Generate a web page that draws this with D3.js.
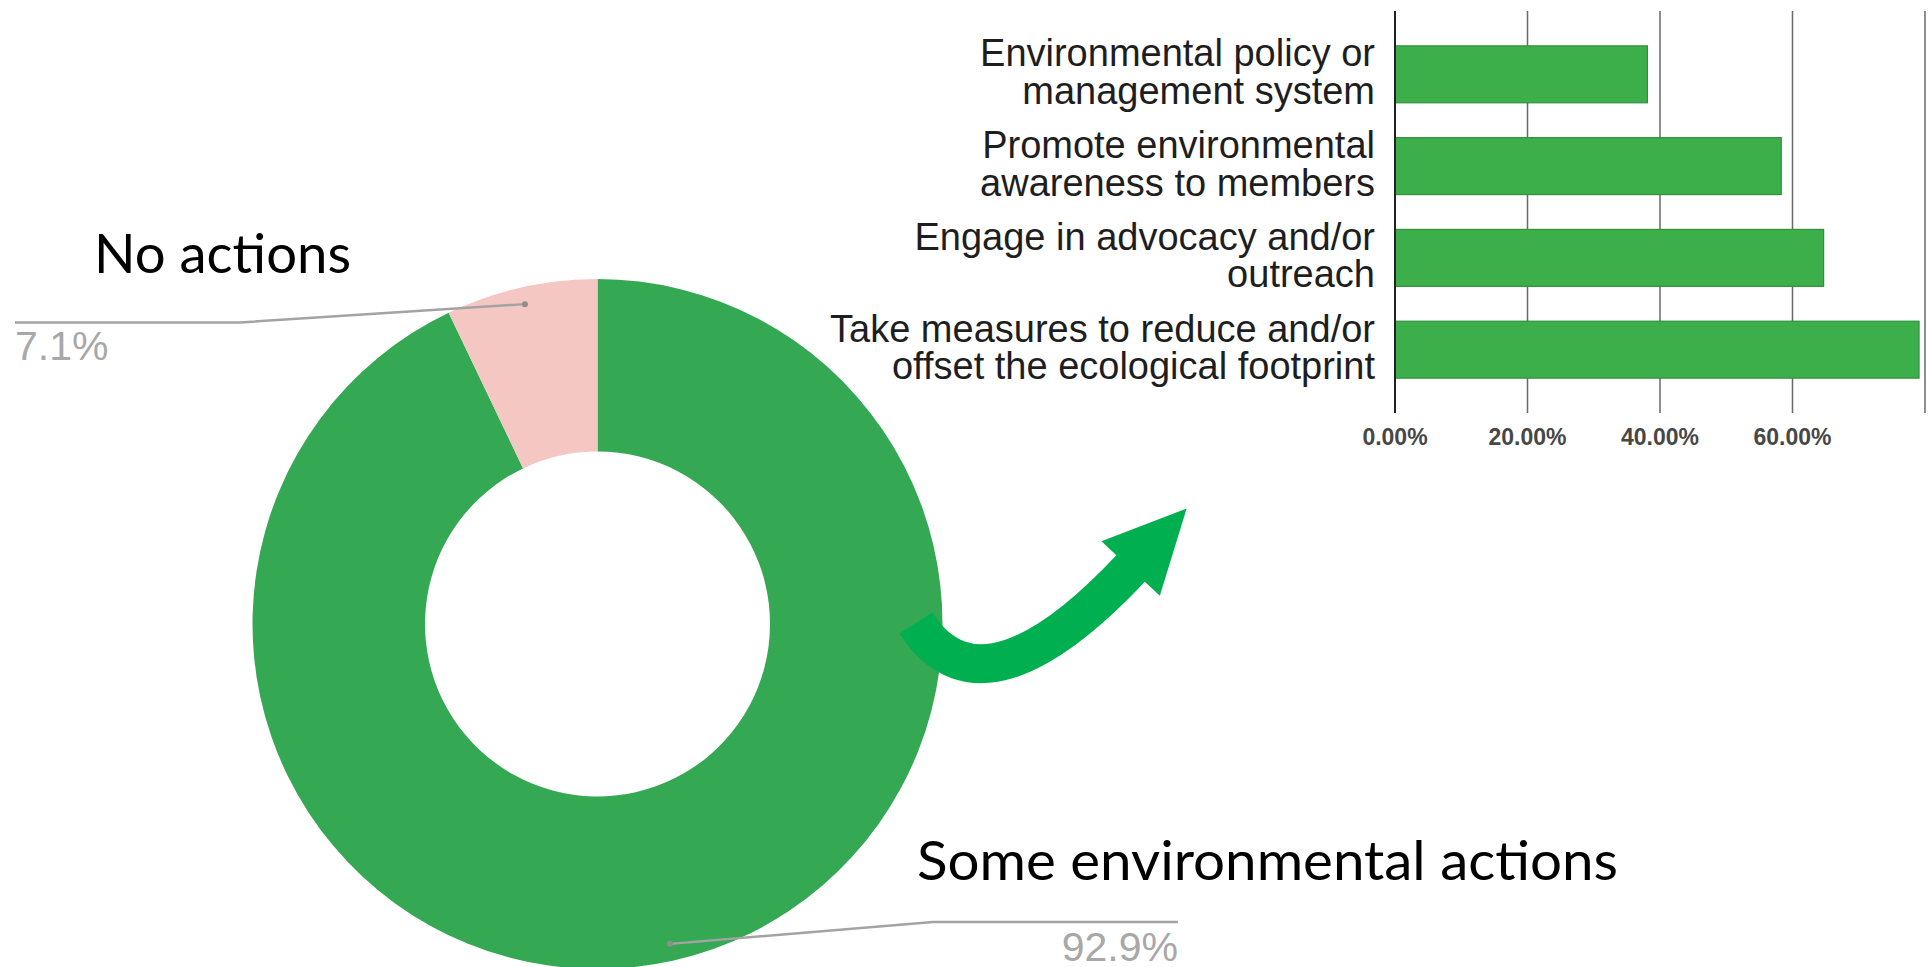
<!DOCTYPE html>
<html>
<head>
<meta charset="utf-8">
<script src="https://cdn.jsdelivr.net/npm/d3@7"></script>
<style>
  html, body { margin: 0; padding: 0; background: #fff; overflow: hidden; }
  svg { display: block; }
</style>
</head>
<body>
<div id="chart"></div>
<script>
// donut: organisations with / without environmental actions
let donutLabels = ["Some environmental actions", "No actions"];
let donutValues = [92.9, 7.1];
let donutColors = ["#34a853", "#f4c7c3"];

// bars: what the organisations with actions do (%)
let actionLabels = [
    ["Environmental policy or", "management system"],
    ["Promote environmental", "awareness to members"],
    ["Engage in advocacy and/or", "outreach"],
    ["Take measures to reduce and/or", "offset the ecological footprint"]
];
let actionValues = [38.1, 58.3, 64.7, 79.1];
let xTicks = [0, 20, 40, 60, 80];
let xTickLabels = ["0.00%", "20.00%", "40.00%", "60.00%", ""];

let width = 1928, height = 967;

let svg = d3.select("#chart").append("svg")
    .attr("width", width)
    .attr("height", height);

// ---- donut ----
function drawDonut() {
    let cx = 597.5, cy = 624;
    let g = svg.append("g").attr("transform", `translate(${cx},${cy})`);

    let pie = d3.pie().sort(null).value(d => d);
    let arcs = pie(donutValues);

    let arc = d3.arc().innerRadius(172.5).outerRadius(345);
    let dotArc = d3.arc().innerRadius(328).outerRadius(328);

    g.selectAll("path.slice")
        .data(arcs)
        .enter()
        .append("path").classed("slice", true)
        .attr("d", arc)
        .attr("fill", (d, i) => donutColors[i]);

    // leader lines: elbow x, end x, line y (page coords)
    let leaders = [
        {elbow: 933, end: 1178, y: 922, anchor: "end", base: 961},
        {elbow: 240, end: 15, y: 322.5, anchor: "start", base: 360}
    ];

    arcs.forEach(function (d, i) {
        let [px, py] = dotArc.centroid(d);
        px += cx; py += cy;
        let L = leaders[i];
        svg.append("path")
            .attr("d", d3.line()([[px, py], [L.elbow, L.y], [L.end, L.y]]))
            .attr("fill", "none")
            .attr("stroke", "#a3a3a3")
            .attr("stroke-width", 2.5);
        svg.append("circle")
            .attr("cx", px).attr("cy", py).attr("r", 3)
            .attr("fill", "#8e8e8e");
        svg.append("text")
            .attr("x", L.end).attr("y", L.base)
            .attr("text-anchor", L.anchor)
            .attr("style", "font: normal 41px 'Liberation Sans', Arial, sans-serif;")
            .attr("fill", "#a8a8a8")
            .text(d3.format(".1f")(d.data) + "%");
    });

    // big slide captions
    let captions = [
        {x: 917, y: 880, len: 701},
        {x: 94, y: 273, len: 257}
    ];
    donutLabels.forEach(function (t, i) {
        svg.append("text")
            .attr("x", captions[i].x).attr("y", captions[i].y)
            .attr("textLength", captions[i].len)
            .attr("lengthAdjust", "spacingAndGlyphs")
            .attr("style", "font: normal 55px Lato, 'Open Sans', sans-serif;")
            .attr("fill", "#000")
            .text(t);
    });
}

// ---- curved arrow ----
function drawArrow() {
    let p0 = [916, 623], c1 = [965, 700], c2 = [1045, 660], p1 = [1132, 567];
    let p = d3.path();
    p.moveTo(p0[0], p0[1]);
    p.bezierCurveTo(c1[0], c1[1], c2[0], c2[1], p1[0], p1[1]);
    svg.append("path")
        .attr("d", p.toString())
        .attr("fill", "none")
        .attr("stroke", "#00b050")
        .attr("stroke-width", 39);

    let dx = p1[0] - c2[0], dy = p1[1] - c2[1];
    let n = Math.hypot(dx, dy);
    dx /= n; dy /= n;
    let half = 40, len = 80;
    let head = [
        [p1[0] - dy * half - dx * 2, p1[1] + dx * half - dy * 2],
        [p1[0] + dx * len, p1[1] + dy * len],
        [p1[0] + dy * half - dx * 2, p1[1] - dx * half - dy * 2]
    ];
    svg.append("path")
        .attr("d", d3.line()(head) + "Z")
        .attr("fill", "#00b050");
}

// ---- bar chart ----
function drawBars() {
    let x = d3.scaleLinear().domain([0, 80]).range([1395, 1925]);
    let y = d3.scaleBand()
        .domain(d3.range(actionValues.length))
        .range([11, 413])
        .paddingInner(0.38)
        .paddingOuter(0.38);

    let g = svg.append("g");

    g.selectAll("line.grid")
        .data(xTicks.slice(1))
        .enter()
        .append("line").classed("grid", true)
        .attr("x1", d => x(d)).attr("x2", d => x(d))
        .attr("y1", 11).attr("y2", 413)
        .attr("stroke", "#6a6a6a")
        .attr("stroke-width", 1.5);

    g.selectAll("rect.bar")
        .data(actionValues)
        .enter()
        .append("rect").classed("bar", true)
        .attr("x", x(0))
        .attr("y", (d, i) => y(i))
        .attr("width", d => x(d) - x(0))
        .attr("height", y.bandwidth())
        .attr("fill", "#3daf4a")
        .attr("stroke", "#2f8f3b")
        .attr("stroke-width", 1.2);

    g.append("line")
        .attr("x1", x(0)).attr("x2", x(0))
        .attr("y1", 11).attr("y2", 413)
        .attr("stroke", "#222")
        .attr("stroke-width", 2);

    g.selectAll("text.tick")
        .data(xTicks)
        .enter()
        .append("text").classed("tick", true)
        .attr("x", d => x(d))
        .attr("y", 445)
        .attr("text-anchor", "middle")
        .attr("style", "font: bold 23px 'Liberation Sans', Arial, sans-serif;")
        .attr("fill", "#474747")
        .text((d, i) => xTickLabels[i]);

    let labels = g.selectAll("text.cat")
        .data(actionLabels)
        .enter()
        .append("text").classed("cat", true)
        .attr("text-anchor", "end")
        .attr("style", "font: normal 38px 'Liberation Sans', Arial, sans-serif;")
        .attr("fill", "#1e1e1e");

    labels.each(function (d, i) {
        let self = d3.select(this);
        let mid = y(i) + y.bandwidth() / 2;
        d.forEach(function (line, j) {
            self.append("tspan")
                .attr("x", 1375)
                .attr("y", mid - 8 + j * 37.5)
                .text(line);
        });
    });
}

drawDonut();
drawArrow();
drawBars();
</script>
</body>
</html>
